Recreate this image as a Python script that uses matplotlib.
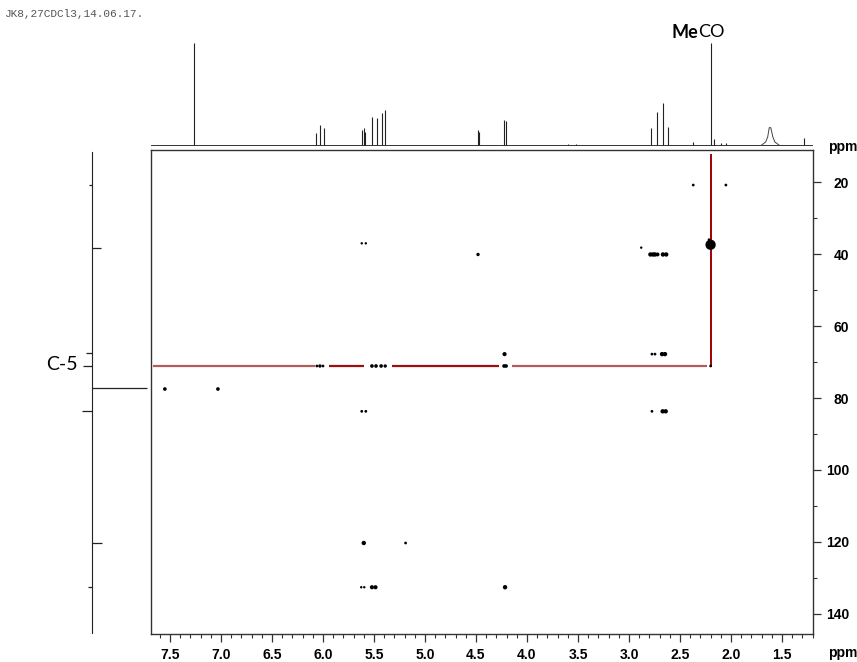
import numpy as np
import matplotlib
matplotlib.use("Agg")
import matplotlib.pyplot as plt

W, H = 857, 662

# 1H projection (top): peak ppm and relative height
h_ppm = [7.26, 6.07, 6.03, 5.99, 5.615, 5.60, 5.585, 5.516, 5.473, 5.424, 5.392,
         4.485, 4.47, 4.225, 4.21, 3.60, 3.52, 2.78, 2.725, 2.667, 2.617,
         2.37, 2.20, 2.17, 2.10, 2.05, 1.285]
h_int = [1.0, 0.12, 0.20, 0.17, 0.15, 0.17, 0.13, 0.27, 0.26, 0.31, 0.34,
         0.15, 0.13, 0.25, 0.24, 0.01, 0.01, 0.17, 0.32, 0.41, 0.18,
         0.03, 1.0, 0.06, 0.02, 0.02, 0.07]
# broad signal near 1.6 ppm
broad_ppm = [1.70, 1.66, 1.64, 1.625, 1.61, 1.59, 1.57, 1.53]
broad_int = [0.0, 0.03, 0.08, 0.17, 0.17, 0.08, 0.03, 0.0]

# 13C projection (left): ppm and signed amplitude
c_ppm = [20.8, 38.4, 67.5, 71.1, 77.3, 83.7, 120.3, 132.6]
c_int = [-0.06, 0.16, -0.10, -0.16, 1.0, -0.18, 0.18, -0.08]

# HMBC cross peaks: f2 (1H), f1 (13C), dot size
cp_h = [2.37, 2.05, 2.20, 2.215, 2.88,
        2.79, 2.765, 2.745, 2.72, 2.667, 2.635, 4.48, 5.62, 5.58,
        4.22, 2.775, 2.745, 2.676, 2.647,
        6.06, 6.03, 6.00, 5.52, 5.48, 5.43, 5.39, 4.225, 4.205, 2.20,
        7.55, 7.03,
        5.62, 5.58, 2.775, 2.67, 2.64,
        5.60, 5.19,
        5.625, 5.595, 5.52, 5.485, 4.215]
cp_c = [20.8, 20.8, 37.4, 36.0, 38.2,
        40.1, 40.1, 40.1, 40.1, 40.1, 40.1, 40.1, 37.0, 37.0,
        67.8, 67.8, 67.8, 67.8, 67.8,
        71.1, 71.1, 71.1, 71.1, 71.1, 71.1, 71.1, 71.1, 71.1, 71.1,
        77.5, 77.5,
        83.7, 83.7, 83.7, 83.7, 83.7,
        120.3, 120.3,
        132.6, 132.6, 132.6, 132.6, 132.6]
cp_s = [4, 4, 55, 4, 3,
        10, 10, 10, 8, 10, 10, 6, 3, 3,
        9, 4, 4, 10, 10,
        4, 6, 4, 7, 7, 7, 6, 7, 7, 4,
        7, 7,
        4, 4, 4, 10, 10,
        10, 4,
        3, 3, 9, 9, 10]

# red guide lines (C-5 row and MeCO column)
c5_ppm = 71.1
meco_ppm = 2.20
seg_light = [(7.67, 6.08), (4.15, 2.24)]
seg_dark = [(5.94, 5.60), (5.32, 4.27)]

xlo, xhi = 7.686, 1.196
ylo, yhi = 145.6, 11.06


def frac(x0, y0, x1, y1):
    return [x0 / W, 1 - y1 / H, (x1 - x0) / W, (y1 - y0) / H]


fig = plt.figure(figsize=(W / 100, H / 100), dpi=100)

# main 2D panel
ax = fig.add_axes(frac(151, 150, 813, 634))
ax.scatter(cp_h, cp_c, s=cp_s, c="black", marker="o", linewidths=0, zorder=3)
for a, b in seg_light:
    ax.plot([a, b], [c5_ppm, c5_ppm], color="#b25c5c", lw=1.6, solid_capstyle="butt")
for a, b in seg_dark:
    ax.plot([a, b], [c5_ppm, c5_ppm], color="#9e1010", lw=1.6, solid_capstyle="butt")
ax.plot([meco_ppm, meco_ppm], [12.4, c5_ppm], color="#a00000", lw=1.4)
ax.set_xlim(xlo, xhi)
ax.set_ylim(ylo, yhi)
ax.set_xticks(np.arange(7.5, 1.4, -0.5))
ax.set_xticks(np.arange(7.6, 1.19, -0.1), minor=True)
ax.set_yticks(np.arange(20, 141, 20))
ax.set_yticks(np.arange(30, 141, 20), minor=True)
ax.xaxis.set_major_formatter(matplotlib.ticker.FormatStrFormatter("%.1f"))
ax.yaxis.tick_right()
ax.tick_params(axis="both", which="major", direction="out", length=6, width=0.9,
               color="#333333", labelsize=10)
ax.tick_params(axis="both", which="minor", direction="out", length=3, width=0.8,
               color="#333333")
ax.tick_params(axis="x", pad=4)
ax.tick_params(axis="y", which="major", pad=20)
for lab in ax.get_xticklabels() + ax.get_yticklabels():
    lab.set_fontfamily("Liberation Sans")
    lab.set_fontweight("bold")
for lab in ax.get_yticklabels():
    lab.set_horizontalalignment("right")
for sp in ax.spines.values():
    sp.set_color("#333333")
    sp.set_linewidth(1.0)

# top 1H projection
axt = fig.add_axes(frac(151, 40, 813, 149))
axt.axhline(0, color="#333333", lw=0.7)
axt.vlines(h_ppm, 0, h_int, color="#222222", lw=0.8)
axt.plot(broad_ppm, broad_int, color="#444444", lw=0.7)
axt.set_xlim(xlo, xhi)
axt.set_ylim(-0.039, 1.029)
axt.axis("off")

# left 13C projection
axl = fig.add_axes(frac(40, 150, 150, 634))
axl.axvline(0, color="#222222", lw=0.8, ymin=0.0, ymax=0.995)
axl.hlines(c_ppm, 0, c_int, color="#222222", lw=0.9)
axl.set_xlim(-0.945, 1.055)
axl.set_ylim(ylo, yhi)
axl.axis("off")

# labels
fig.text(5 / W, 1 - 14 / H, "JK8,27CDCl3,14.06.17.", family="Liberation Mono",
         fontsize=8, color="#555555", va="center")
fig.text(843 / W, 1 - 147 / H, "ppm", family="Liberation Sans", fontweight="bold",
         fontsize=10, ha="center", va="center")
fig.text(843 / W, 1 - 653 / H, "ppm", family="Liberation Sans", fontweight="bold",
         fontsize=10, ha="center", va="center")
fig.text(698 / W, 1 - 32 / H, "Me", family="Lato", fontweight="bold",
         fontsize=13, ha="right", va="center")
fig.text(698 / W, 1 - 32 / H, "CO", family="Lato", fontsize=13,
         ha="left", va="center")
fig.text(62 / W, 1 - 364 / H, "C-5", family="Lato", fontsize=14,
         ha="center", va="center")

fig.savefig("out.png", dpi=100)
